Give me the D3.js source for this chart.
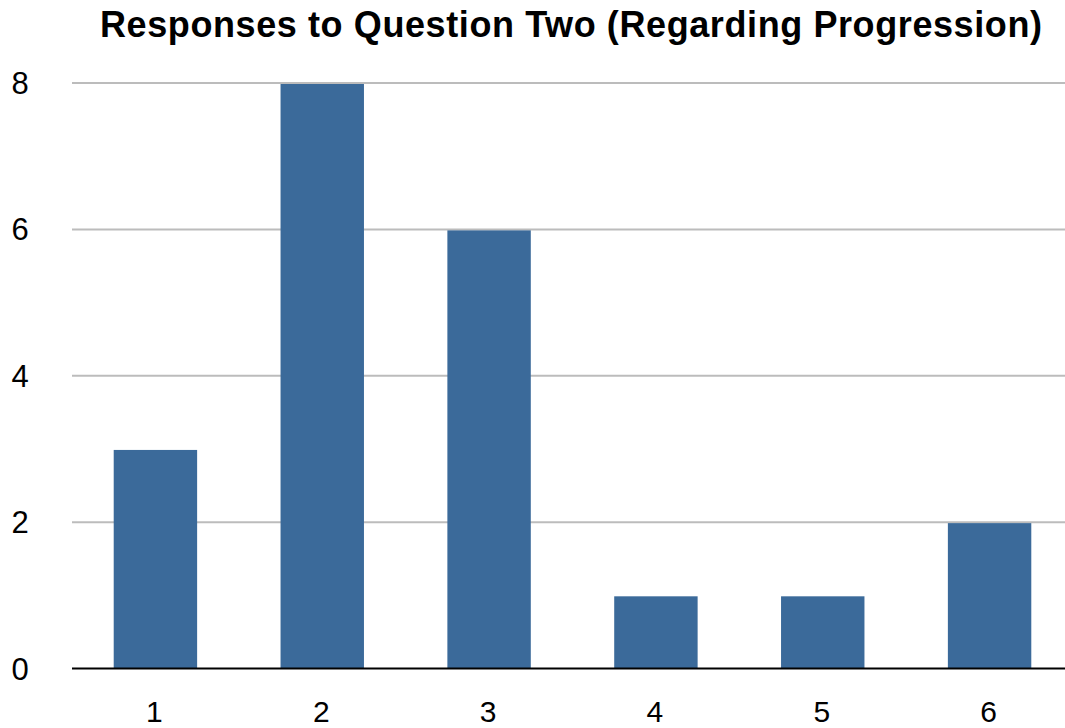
<!DOCTYPE html>
<html><head><meta charset="utf-8">
<script src="https://cdn.jsdelivr.net/npm/d3@7"></script>
<style>body{margin:0;background:#fff;}svg{display:block;}</style>
</head><body>
<script>
const categories = ["1","2","3","4","5","6"];
const values = [3,8,6,1,1,2];
const yTicks = [0,2,4,6,8];
const title = "Responses to Question Two (Regarding Progression)";

const W = 1065, H = 728;
const svg = d3.select("body").append("svg").attr("width", W).attr("height", H);
const font = "Helvetica, 'Liberation Sans', Arial, sans-serif";

const x = d3.scaleBand().domain(categories).range([72, 1073]).paddingInner(0.5).paddingOuter(0.25);
const y = d3.scaleLinear().domain([0, 8]).range([668.5, 83]);

// gridlines
svg.append("g").selectAll("line").data(yTicks.filter(d => d > 0)).join("line")
  .attr("x1", 72).attr("x2", W)
  .attr("y1", d => y(d)).attr("y2", d => y(d))
  .attr("stroke", "#bcbcbc").attr("stroke-width", 2);

// bars
svg.append("g").selectAll("rect").data(values).join("rect")
  .attr("x", (d, i) => x(categories[i]))
  .attr("width", x.bandwidth())
  .attr("y", d => y(d) + 1)
  .attr("height", d => y(0) - y(d) - 1)
  .attr("fill", "#3b6a9a");

// baseline
svg.append("line").attr("x1", 72).attr("x2", W).attr("y1", y(0)).attr("y2", y(0))
  .attr("stroke", "#000").attr("stroke-width", 2);

// y labels
svg.append("g").selectAll("text").data(yTicks).join("text")
  .attr("x", 20).attr("y", d => y(d) + 11)
  .attr("text-anchor", "middle")
  .attr("font-family", font).attr("font-size", 31).attr("fill", "#000")
  .text(d => d);

// x labels
svg.append("g").selectAll("text").data(categories).join("text")
  .attr("x", d => x(d) + x.bandwidth() / 2 - 1).attr("y", 721.5)
  .attr("text-anchor", "middle")
  .attr("font-family", font).attr("font-size", 30).attr("fill", "#000")
  .text(d => d);

// title
svg.append("text").attr("x", 571).attr("y", 37)
  .attr("text-anchor", "middle")
  .attr("font-family", font).attr("font-weight", "bold").attr("font-size", 36).attr("fill", "#000")
  .attr("textLength", 942).attr("lengthAdjust", "spacing")
  .text(title);
</script>
</body></html>
